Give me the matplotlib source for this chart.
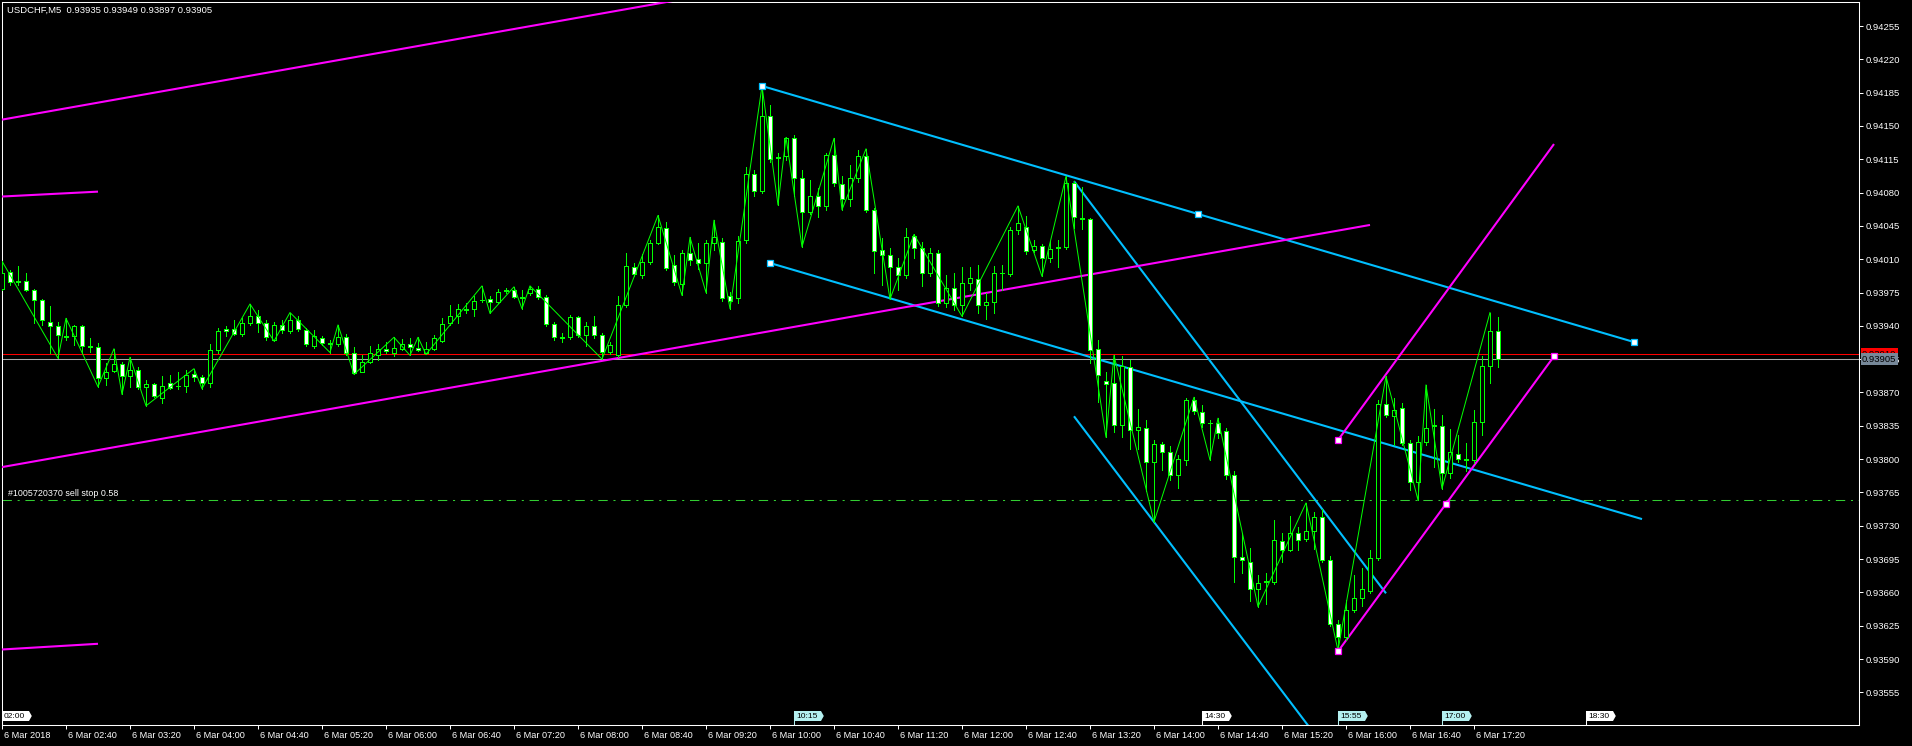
import numpy as np
import matplotlib
matplotlib.use("Agg")
import matplotlib.pyplot as plt
import matplotlib.transforms as mtransforms
from matplotlib.patches import Polygon

plt.rcParams['font.family'] = ['Liberation Sans', 'DejaVu Sans']

# ---------------- data (prices in points = 1e-5) ----------------
open_pts = [93979,93997,93987,93987,93978,93967,93944,93940,93929,93929,93940,93919,93918,93885,93893,93900,93887,93894,93876,93879,
            93864,93880,93877,93877,93889,93886,93880,93915,93937,93937,93931,93943,93950,93943,93925,93941,93935,93946,93936,93919,
            93927,93921,93921,93928,93911,93892,93902,93909,93916,93912,93916,93921,93917,93911,93916,93924,93943,93950,93957,93958,
            93967,93968,93965,93978,93978,93970,93974,93979,93970,93942,93927,93928,93949,93930,93940,93930,93913,93909,93962,94002,
            93993,94007,94027,94043,94004,93984,94017,94010,94006,94027,94028,93971,93969,94030,94100,94082,94160,94117,94118,94137,
            94095,94060,94076,94066,94119,94089,94073,94095,94118,94062,94020,94014,94002,93993,94034,94022,93995,94017,93964,93980,
            93962,93985,93989,93962,93965,93995,93994,94041,94044,94020,94024,94011,94022,94023,94090,94053,94052,93916,93882,93880,
            93836,93897,93831,93833,93797,93816,93807,93783,93799,93862,93850,93838,93838,93830,93783,93697,93692,93664,93671,93671,
            93714,93705,93722,93716,93725,93739,93694,93627,93613,93641,93654,93661,93696,93858,93845,93854,93817,93776,93818,93835,
            93835,93785,93805,93799,93799,93839,93898,93935]
high_pts = [94008,93999,94003,93996,93979,93968,93961,93944,93948,93941,93941,93927,93922,93901,93916,93902,93907,93897,93883,93880,
            93887,93888,93892,93894,93895,93888,93921,93938,93940,93946,93948,93963,93957,93946,93944,93946,93954,93950,93938,93936,
            93929,93925,93941,93931,93918,93909,93919,93921,93923,93928,93926,93927,93928,93923,93930,93948,93962,93963,93964,93971,
            93982,93971,93979,93980,93981,93978,93982,93982,93972,93944,93933,93951,93950,93944,93950,93933,93923,93971,94017,94006,
            94016,94030,94056,94049,94014,94020,94033,94027,94030,94051,94032,93976,94034,94107,94104,94192,94172,94122,94138,94140,
            94104,94093,94085,94122,94137,94097,94109,94125,94126,94064,94032,94022,94011,94043,94036,94028,94022,94020,93993,93995,
            94002,94002,94004,93974,94003,94004,94044,94066,94055,94030,94026,94029,94030,94097,94092,94086,94053,93925,93892,93909,
            93908,93904,93853,93841,93820,93818,93814,93804,93864,93865,93857,93841,93843,93833,93787,93722,93707,93678,93680,93736,
            93722,93740,93729,93754,93744,93748,93698,93631,93652,93678,93686,93704,93862,93887,93864,93859,93820,93824,93878,93853,
            93846,93832,93825,93817,93852,93908,93954,93949]
low_pts = [93978,93983,93983,93977,93943,93941,93911,93906,93925,93920,93911,93913,93876,93878,93891,93868,93876,93874,93856,93865,
           93859,93874,93874,93870,93882,93874,93876,93912,93929,93930,93929,93941,93934,93925,93924,93933,93933,93935,93919,93917,
           93920,93912,93919,93909,93889,93891,93901,93904,93912,93908,93915,93909,93914,93910,93915,93923,93941,93943,93953,93950,
           93965,93953,93964,93974,93969,93958,93972,93968,93940,93925,93923,93926,93928,93919,93927,93905,93910,93907,93960,93992,
           93990,94005,94026,93999,93983,93972,94004,94000,93975,94020,93966,93958,93964,94027,94076,94080,94112,94067,94114,94076,
           94023,94057,94054,94062,94087,94062,94066,94091,94060,93995,93983,93968,93978,93990,94011,93982,93992,93961,93960,93957,
           93950,93978,93954,93947,93953,93978,93992,94037,94016,94018,93992,94007,94002,94021,94043,94042,93901,93860,93823,93828,
           93823,93811,93811,93766,93734,93789,93778,93770,93794,93847,93834,93799,93822,93779,93671,93680,93651,93645,93648,93669,
           93692,93703,93704,93714,93706,93692,93625,93599,93610,93639,93646,93659,93694,93844,93815,93815,93768,93757,93815,93792,
           93769,93780,93797,93787,93796,93825,93880,93897]
close_pts = [93995,93986,93986,93978,93967,93946,93940,93930,93928,93940,93919,93918,93885,93892,93900,93887,93894,93876,93879,93866,
             93877,93875,93877,93888,93886,93880,93915,93935,93935,93931,93943,93950,93943,93928,93941,93936,93946,93937,93921,93929,
             93922,93922,93928,93911,93890,93902,93912,93916,93914,93917,93921,93918,93915,93916,93927,93942,93950,93958,93958,93966,
             93967,93965,93976,93977,93970,93969,93979,93970,93942,93928,93928,93949,93930,93940,93930,93913,93920,93962,94003,93994,
             94007,94027,94044,94001,93986,94017,94009,94006,94027,94033,93969,93966,94029,94100,94082,94160,94115,94116,94137,94095,
             94060,94076,94066,94119,94090,94073,94095,94118,94062,94019,94014,94002,93993,94033,94022,93995,94017,93964,93980,93962,
             93985,93990,93962,93965,93995,93996,94041,94048,94019,94024,94011,94021,94023,94090,94054,94052,93915,93888,93879,93836,
             93898,93831,93834,93797,93816,93807,93783,93800,93862,93851,93838,93838,93827,93783,93697,93694,93664,93670,93672,93715,
             93705,93722,93715,93725,93739,93694,93627,93613,93641,93654,93664,93696,93858,93846,93852,93817,93776,93818,93833,93836,
             93785,93807,93800,93800,93839,93898,93935,93905]

# ZigZag pivots: bar index and type (H = at bar high, L = at bar low)
zz_bars = [0,7,8,12,14,15,16,18,24,25,31,34,36,41,42,44,49,51,52,53,60,61,64,65,66,75,82,85,86,88,89,91,95,97,98,100,
           104,105,108,111,114,120,127,130,133,138,139,144,149,151,152,157,163,167,173,177,178,180,186]
zz_kind = ("HLHLHLHLHL" "HLHLHLHLHL" "HLHLHLHLHL" "HLHLHLHLHL" "HLHLHLHLHL" "HLHLHLHLH")

title_text = "USDCHF,M5  0.93935 0.93949 0.93897 0.93905"
bid_price = 0.93905
ask_price = 0.93910
order_price = 0.93757
order_label = "#1005720370 sell stop 0.58"

y_ticks = [0.93555,0.93590,0.93625,0.93660,0.93695,0.93730,0.93765,0.93800,0.93835,0.93870,0.93905,
           0.93940,0.93975,0.94010,0.94045,0.94080,0.94115,0.94150,0.94185,0.94220,0.94255]
x_tick_bars = [0,8,16,24,32,40,48,56,64,72,80,88,96,104,112,120,128,136,144,152,160,168,176,184]
x_tick_labels = ["6 Mar 2018","6 Mar 02:40","6 Mar 03:20","6 Mar 04:00","6 Mar 04:40","6 Mar 05:20","6 Mar 06:00",
                 "6 Mar 06:40","6 Mar 07:20","6 Mar 08:00","6 Mar 08:40","6 Mar 09:20","6 Mar 10:00","6 Mar 10:40",
                 "6 Mar 11:20","6 Mar 12:00","6 Mar 12:40","6 Mar 13:20","6 Mar 14:00","6 Mar 14:40","6 Mar 15:20",
                 "6 Mar 16:00","6 Mar 16:40","6 Mar 17:20"]
first_bar_time = "02:00"
vline_times = ["02:00","10:15","14:30","15:55","17:00","18:30"]
vline_selected = [False, True, False, True, True, False]

# drawn objects: (bar index, price) anchors
cyan_upper = ([95, 204], [0.94192, 0.93923])
cyan_lower = ([96, 205], [0.94006, 0.93737])
cyan_steep_upper = ([134, 173], [0.94092, 0.93659])
cyan_steep_lower = ([134, 173], [0.93845, 0.93412])
cyan_markers = ([95, 149.5, 204, 96], [0.94192, 0.940575, 0.93923, 0.94006])
mag_upper = ([-30, 171], [0.94112, 0.94411])
mag_middle = ([-30, 171], [0.93747, 0.94046])
mag_short_a = ([-2, 12], [0.94075, 0.94081])
mag_short_b = ([-2, 12], [0.93599, 0.93606])
mag_chan_upper = ([167, 194], [0.93820, 0.94131])
mag_chan_lower = ([167, 194], [0.93598, 0.93908])
mag_markers = ([167, 167, 180.5, 194], [0.93820, 0.93598, 0.93753, 0.93908])

# ---------------- figure ----------------
W, H = 1912, 746
fig = plt.figure(figsize=(W/100, H/100), dpi=100, facecolor='black')
ax_l, ax_r, ax_t, ax_b = 2, 1859, 2, 725
ax = fig.add_axes([ax_l/W, (H-ax_b)/H, (ax_r-ax_l)/W, (ax_b-ax_t)/H], facecolor='black')
bar_px = 8.0
ax.set_xlim(0, (ax_r-ax_l)/bar_px)
px_per_price = 95190.0
ax.set_ylim(0.94255 - (ax_b-26)/px_per_price, 0.94255 + (26-ax_t)/px_per_price)

o = np.array(open_pts)/1e5
h = np.array(high_pts)/1e5
l = np.array(low_pts)/1e5
c = np.array(close_pts)/1e5
bars = np.arange(len(o))

GREEN = '#00FF00'
CYAN = '#00BFFF'
MAG = '#FF00FF'

# objects
for (xs, ys) in [cyan_upper, cyan_lower, cyan_steep_upper, cyan_steep_lower]:
    ax.plot(xs, ys, color=CYAN, lw=1.5, zorder=3, solid_capstyle='butt')
for (xs, ys) in [mag_upper, mag_middle, mag_short_a, mag_short_b, mag_chan_upper, mag_chan_lower]:
    ax.plot(xs, ys, color=MAG, lw=1.5, zorder=3, solid_capstyle='butt')

# price lines
ax.axhline(ask_price, color='#FF0000', lw=0.75, zorder=2)
ax.axhline(bid_price, color='#A8A8A8', lw=0.75, zorder=2)
ax.axhline(order_price, color='#32CD32', lw=0.75, zorder=2, ls=(0, (9.0, 5.5, 2.0, 5.5)))
ax.annotate(order_label, xy=(0, order_price), xycoords=('axes fraction', 'data'),
            xytext=(4, 1.5), textcoords='offset points', ha='left', va='bottom',
            fontsize=6.4, color='white', zorder=9)

# candles
bear = c < o
ax.vlines(bars, l, h, color=GREEN, lw=0.72, zorder=5, antialiased=False)
ax.bar(bars, np.abs(c-o), bottom=np.minimum(o, c), width=0.55,
       color=np.where(bear, 'white', 'black'), edgecolor=GREEN, linewidth=0.72, zorder=6,
       antialiased=False)

# zigzag
zz_prices = [h[b] if k == 'H' else l[b] for b, k in zip(zz_bars, zz_kind)]
ax.plot(zz_bars, zz_prices, color=GREEN, lw=0.72, zorder=7)

# markers
ax.plot(*cyan_markers, ls='none', marker='s', ms=4.6, mfc='white', mec=CYAN, mew=0.9, zorder=8)
ax.plot(*mag_markers, ls='none', marker='s', ms=4.6, mfc='white', mec=MAG, mew=0.9, zorder=8)

# spines / axes
for s in ax.spines.values():
    s.set_color('white')
    s.set_linewidth(0.75)
ax.yaxis.tick_right()
ax.set_yticks(y_ticks)
ax.set_yticklabels([f"{v:.5f}" for v in y_ticks])
ax.tick_params(axis='y', colors='white', length=3, width=0.72, pad=1.5, labelsize=6.8, direction='out')
ax.set_xticks(x_tick_bars)
ax.set_xticklabels([])
ax.tick_params(axis='x', colors='white', length=3, width=0.72, direction='out')

bt = mtransforms.blended_transform_factory(ax.transData, ax.transAxes)
for b, lab in zip(x_tick_bars, x_tick_labels):
    ax.text(b + 0.3, -10/723, lab, transform=bt, ha='left', va='center', fontsize=6.6,
            color='white', clip_on=False)

# price labels on right (ask label partly hidden behind bid label, as in the terminal)
rt = mtransforms.blended_transform_factory(ax.transAxes, ax.transData)
x_lab = 1 + 3/(ax_r-ax_l)
ax.text(x_lab, ask_price, f"{ask_price:.5f}", transform=rt, ha='left', va='center', fontsize=6.8,
        color='black', clip_on=False, zorder=10,
        bbox=dict(boxstyle='square,pad=0.15', fc='#FF0000', ec='none'))
ax.text(x_lab, bid_price, f"{bid_price:.5f}", transform=rt, ha='left', va='center', fontsize=6.8,
        color='black', clip_on=False, zorder=11,
        bbox=dict(boxstyle='square,pad=0.15', fc='#778899', ec='none'))

# title
fig.text(7/W, 1 - 10/H, title_text, color='white', fontsize=6.8, ha='left', va='center')

# vertical line time tags at bottom of chart
def to_bar(t):
    hh, mm = map(int, t.split(':'))
    h0, m0 = map(int, first_bar_time.split(':'))
    return ((hh*60+mm) - (h0*60+m0)) / 5.0

tag_w = 27/bar_px
y_bot, y_top = 4/723, 14/723
for t, sel in zip(vline_times, vline_selected):
    b = to_bar(t)
    col = '#B4F0F0' if sel else 'white'
    poly = Polygon([(b, y_bot), (b, y_top), (b+tag_w, y_top), (b+tag_w+0.35, (y_bot+y_top)/2), (b+tag_w, y_bot)],
                   closed=True, transform=bt, fc=col, ec='none', zorder=9)
    ax.add_patch(poly)
    ax.plot([b, b], [0, y_top], transform=bt, color=col, lw=0.75, zorder=9)
    ax.text(b+0.25, (y_bot+y_top)/2, t, transform=bt, ha='left', va='center', fontsize=6.0,
            color='black', zorder=10)

fig.savefig('out.png', dpi=100, facecolor='black')
